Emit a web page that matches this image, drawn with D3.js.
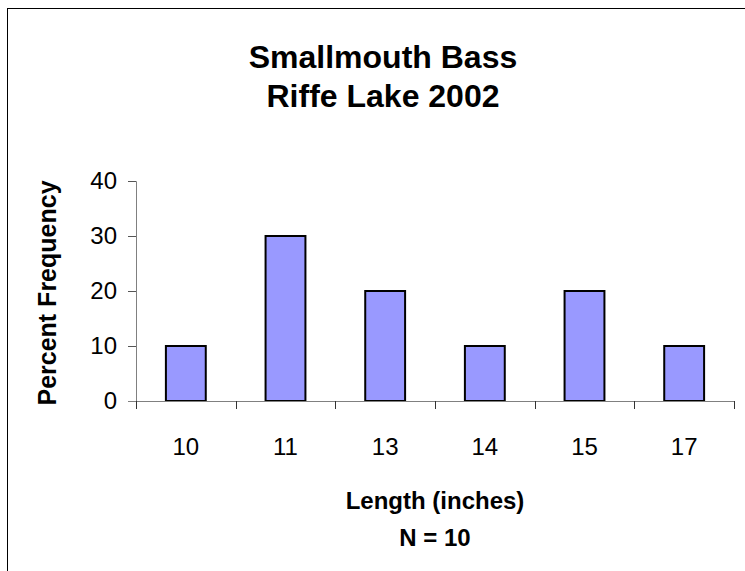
<html>
<head>
<style>
    body { margin: 0; background: white; }
    text { font-family: Arial, "Liberation Sans", sans-serif; }
</style>
</head>
<body>
    <svg id="container" width="745" height="571"></svg>
</body>
<script src="https://cdn.jsdelivr.net/npm/d3@7"></script>
<script>
    // data
    let lengths = ["10", "11", "13", "14", "15", "17"]
    let percents = [10, 30, 20, 10, 20, 10]
    let yTicks = [0, 10, 20, 30, 40]
    let titleLines = ["Smallmouth Bass", "Riffe Lake 2002"]
    let xTitleLines = ["Length (inches)", "N = 10"]
    let yTitle = "Percent Frequency"

    let svg = d3.select("#container")

    // outer chart border (runs off the right / bottom of the picture)
    svg.append("rect")
        .attr("x", 7.5).attr("y", 8.5)
        .attr("width", 800).attr("height", 700)
        .attr("fill", "white")
        .attr("stroke", "black")

    let plotLeft = 136, plotRight = 734, plotTop = 181, plotBottom = 401

    let x = d3.scaleBand()
        .domain(lengths)
        .range([plotLeft, plotRight])
        .paddingInner(0.6)
        .paddingOuter(0.3)

    let y = d3.scaleLinear()
        .domain([0, 40])
        .range([plotBottom, plotTop])

    // bars
    svg.selectAll(".bar")
        .data(percents)
        .enter().append("rect")
        .attr("class", "bar")
        .attr("x", (d, i) => x(lengths[i]))
        .attr("y", d => y(d))
        .attr("width", x.bandwidth())
        .attr("height", d => y(0) - y(d))
        .attr("fill", "#9999ff")
        .attr("stroke", "black")
        .attr("stroke-width", 2)

    // y axis
    let yAxis = svg.append("g")
        .attr("transform", `translate(${plotLeft},0)`)
        .call(d3.axisLeft(y).tickValues(yTicks).tickSize(8).tickPadding(11))
    yAxis.select(".domain").attr("stroke", "#808080")
    yAxis.selectAll(".tick line").attr("stroke", "#555")
    yAxis.selectAll("text")
        .attr("font-size", 24)
        .attr("fill", "black")
        .attr("font-family", "Arial, 'Liberation Sans', sans-serif")

    // x axis: ticks sit between categories
    let step = (plotRight - plotLeft) / lengths.length
    let xAxisG = svg.append("g")
    xAxisG.append("line")
        .attr("x1", plotLeft - 8).attr("x2", plotRight)
        .attr("y1", plotBottom + 0.5).attr("y2", plotBottom + 0.5)
        .attr("stroke", "#808080")
    xAxisG.selectAll(".xtick")
        .data(d3.range(lengths.length + 1))
        .enter().append("line")
        .attr("class", "xtick")
        .attr("x1", i => Math.round(plotLeft + i * step) + 0.5)
        .attr("x2", i => Math.round(plotLeft + i * step) + 0.5)
        .attr("y1", plotBottom).attr("y2", plotBottom + 8)
        .attr("stroke", "#333")
    xAxisG.selectAll(".xlabel")
        .data(lengths)
        .enter().append("text")
        .attr("class", "xlabel")
        .attr("x", d => x(d) + x.bandwidth() / 2)
        .attr("y", 455)
        .attr("text-anchor", "middle")
        .attr("font-size", 24)
        .text(d => d)

    // titles
    svg.selectAll(".title")
        .data(titleLines)
        .enter().append("text")
        .attr("class", "title")
        .attr("x", 383)
        .attr("y", (d, i) => 68 + i * 39)
        .attr("text-anchor", "middle")
        .attr("font-size", 32)
        .attr("font-weight", "bold")
        .text(d => d)

    svg.selectAll(".xtitle")
        .data(xTitleLines)
        .enter().append("text")
        .attr("class", "xtitle")
        .attr("x", 435)
        .attr("y", (d, i) => 509 + i * 37)
        .attr("text-anchor", "middle")
        .attr("font-size", 24)
        .attr("font-weight", "bold")
        .text(d => d)

    svg.append("text")
        .attr("transform", "translate(56,293) rotate(-90)")
        .attr("text-anchor", "middle")
        .attr("font-size", 25)
        .attr("font-weight", "bold")
        .text(yTitle)
</script>
</html>
